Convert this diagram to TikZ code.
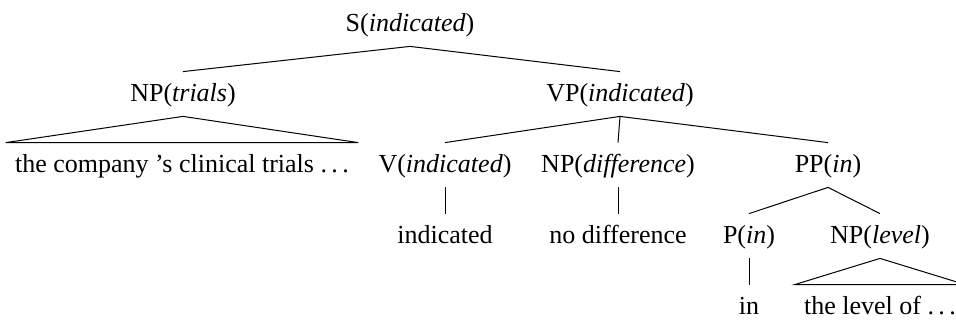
\documentclass[tikz,border=0pt]{standalone}
\usepackage{fontspec}
\setmainfont{Liberation Serif}
% spaced ellipsis, dot -- gap -- dot -- gap -- dot
\newcommand\spaceddots{.\kern0.17em.\kern0.17em.}
\begin{document}
\begin{tikzpicture}[x=0.5pt,y=-0.5pt,
  cat/.style={anchor=base, font=\fontsize{13}{15.6}\selectfont,
    inner xsep=0pt, inner ysep=4pt, text height=10.5pt, text depth=3.5pt},
  phrase/.style={cat, inner xsep=4.5pt},
  branch/.style={line width=0.5pt}]
\useasboundingbox (0,0) rectangle (956,322);

% row 1
\node[cat] (S) at (410,31) {S(\textit{indicated})};
% row 2
\node[cat] (NPt) at (183,101) {NP(\textit{trials})};
\node[cat] (VP) at (620,101) {VP(\textit{indicated})};
% row 3
\node[phrase] (trials) at (182,172) {the company ’s clinical trials \spaceddots};
\node[cat] (V) at (445,172) {V(\textit{indicated})};
\node[cat] (NPd) at (618,172) {NP(\textit{difference})};
\node[cat] (PP) at (828,172) {PP(\textit{in})};
% row 4
\node[cat] (ind) at (445,243) {indicated};
\node[cat] (nodiff) at (618,243) {no difference};
\node[cat] (P) at (749,243) {P(\textit{in})};
\node[cat] (NPl) at (880,243) {NP(\textit{level})};
% row 5
\node[cat] (in) at (749,314) {in};
\node[phrase] (level) at (880,314) {the level of \spaceddots};

% branches
\draw[branch] (S.south) -- (NPt.north);
\draw[branch] (S.south) -- (VP.north);
\draw[branch] (NPt.south) -- (trials.north west) -- (trials.north east) -- cycle;
\draw[branch] (VP.south) -- (V.north);
\draw[branch] (VP.south) -- (NPd.north);
\draw[branch] (VP.south) -- (PP.north);
\draw[branch] (V.south) -- (ind.north);
\draw[branch] (NPd.south) -- (nodiff.north);
\draw[branch] (PP.south) -- (P.north);
\draw[branch] (PP.south) -- (NPl.north);
\draw[branch] (P.south) -- (in.north);
\draw[branch] (NPl.south) -- (level.north west) -- (level.north east) -- cycle;
\end{tikzpicture}
\end{document}
